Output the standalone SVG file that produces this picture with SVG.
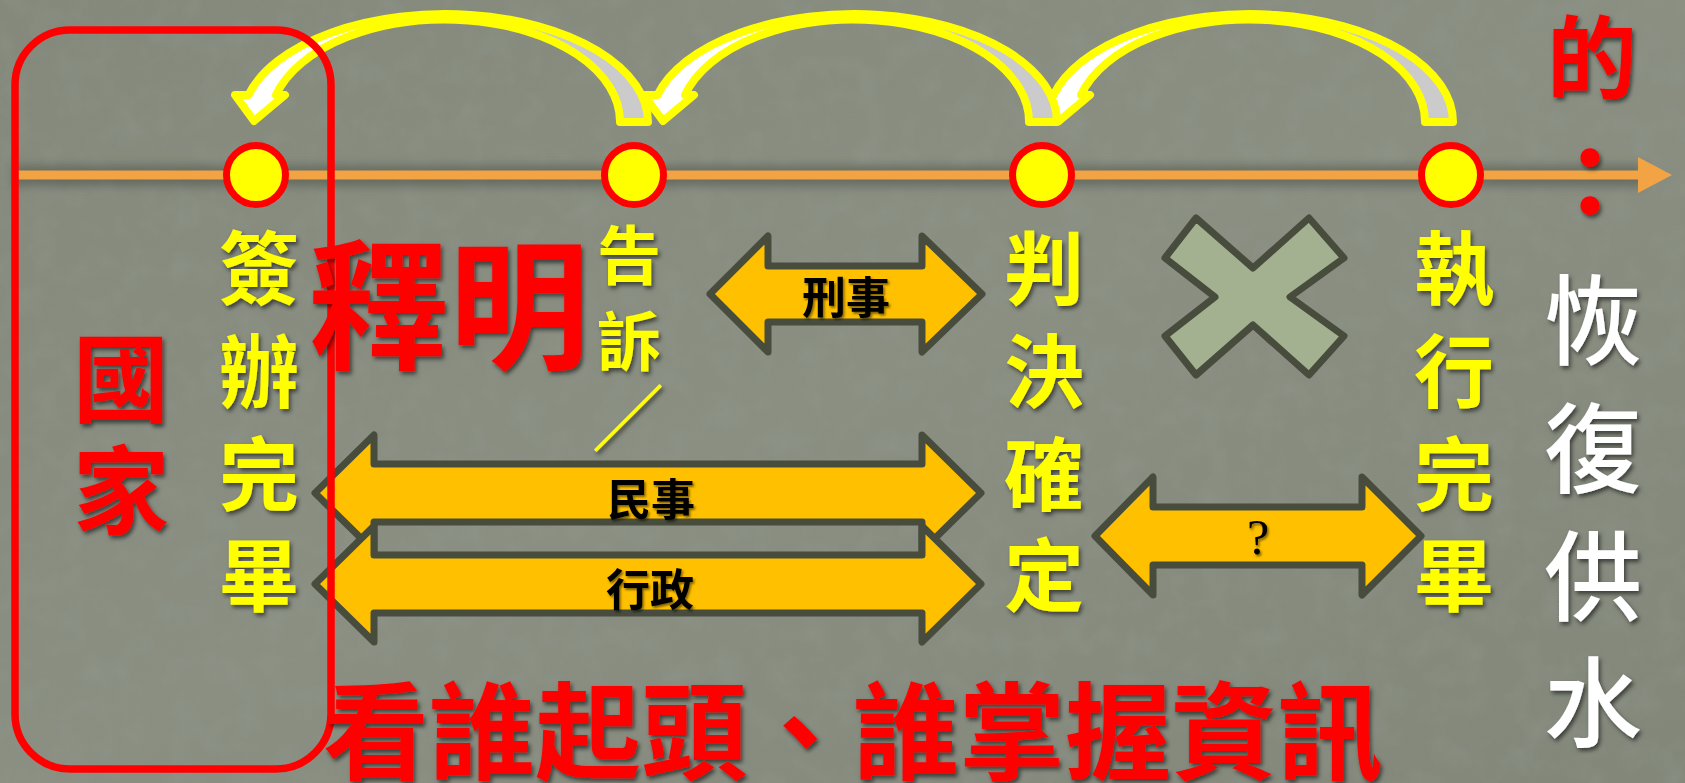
<svg xmlns="http://www.w3.org/2000/svg" width="1685" height="783" viewBox="0 0 1685 783">
<defs>
<style>
.cjk{font-family:"Noto Sans CJK TC","Noto Sans CJK SC",sans-serif;text-anchor:middle;dominant-baseline:central}
.yl{fill:#FFFF00;font-weight:700;font-size:80px;filter:url(#sh)}
.yls{fill:#FFFF00;font-weight:700;font-size:64px;filter:url(#sh)}
.rd{fill:#FF0000;font-weight:700;filter:url(#sh)}
.wt{fill:#FFFFFF;font-weight:500;font-size:98px;filter:url(#sh)}
.bk{fill:#000000;font-weight:700;font-size:44px;filter:url(#sh2)}
.dbl{fill:#FFC000;stroke:#474C3D;stroke-width:7;stroke-linejoin:round}
.arc{fill:url(#arcfill);stroke:#FFFF00;stroke-width:8;stroke-linejoin:round}
.dot{fill:#FFFF00;stroke:#FF0000;stroke-width:7}
</style>
<linearGradient id="bgg" x1="0" y1="0" x2="1" y2="1">
<stop offset="0" stop-color="#84897C"/>
<stop offset="0.5" stop-color="#8A8F82"/>
<stop offset="1" stop-color="#82877A"/>
</linearGradient>
<linearGradient id="arcfill" x1="0" y1="0" x2="1" y2="0">
<stop offset="0" stop-color="#FFFFFF"/>
<stop offset="0.5" stop-color="#FFFFFF"/>
<stop offset="0.5" stop-color="#CBCBCB"/>
<stop offset="1" stop-color="#CBCBCB"/>
</linearGradient>
<filter id="tex" x="0" y="0" width="100%" height="100%">
<feTurbulence type="fractalNoise" baseFrequency="0.035" numOctaves="3" seed="7" result="n"/>
<feColorMatrix in="n" type="matrix" values="0 0 0 0 0.3  0 0 0 0 0.32  0 0 0 0 0.28  0 0 0 1.4 -0.6"/>
</filter>
<filter id="sh" x="-20%" y="-20%" width="140%" height="140%">
<feDropShadow dx="2" dy="3" stdDeviation="2" flood-color="#000" flood-opacity="0.55"/>
</filter>
<filter id="sh2" x="-20%" y="-20%" width="140%" height="140%">
<feDropShadow dx="1.5" dy="2" stdDeviation="1.2" flood-color="#000" flood-opacity="0.5"/>
</filter>
<filter id="lsh" x="-5%" y="-200%" width="110%" height="500%">
<feGaussianBlur stdDeviation="5"/>
</filter>
<path id="arcshape" d="M 648 122 A 203 108 0 0 0 248.5 95 L 235 95 L 254 121 L 285 95 L 276 95 A 175 102 0 0 1 620 122 Z"/>
</defs>

<g id="background">
<rect x="0" y="0" width="1685" height="783" fill="url(#bgg)"/>
<rect x="0" y="0" width="1685" height="783" filter="url(#tex)" opacity="0.5"/>
</g>

<g id="timeline">
<rect x="14" y="166" width="1630" height="20" fill="#3E4238" opacity="0.45" filter="url(#lsh)"/>
<line x1="14" y1="175" x2="1642" y2="175" stroke="#F2A444" stroke-width="9"/>
<polygon points="1638,157 1672,175 1638,193" fill="#F2A444"/>
</g>

<g id="connectors">
<use href="#arcshape" class="arc" transform="translate(805,0)"/>
<use href="#arcshape" class="arc" transform="translate(409,0)"/>
<use href="#arcshape" class="arc"/>
<polygon class="dbl" points="710,294 768,236 768,266 922,266 922,236 982,294 922,352 922,322 768,322 768,352"/>
<polygon class="dbl" points="315,493 374,435 374,464 922,464 922,435 981,493 922,551 922,522 374,522 374,551"/>
<polygon class="dbl" points="315,584 374,526 374,555 922,555 922,526 981,584 922,642 922,613 374,613 374,642"/>
<polygon class="dbl" points="1095,536 1153,477 1153,507 1362,507 1362,477 1421,536 1362,595 1362,565 1153,565 1153,595"/>
<text class="cjk bk" x="846" y="295">刑事</text>
<text class="cjk bk" x="651" y="497">民事</text>
<text class="cjk bk" x="650" y="587">行政</text>
<text x="1258" y="554" style="font-family:'Liberation Serif',serif;font-size:50px;text-anchor:middle;fill:#000;filter:url(#sh2)">?</text>
</g>

<g id="node-qianban">
<circle class="dot" cx="256" cy="175" r="29.5"/>
<text class="cjk yl"><tspan x="259" y="263">簽</tspan><tspan x="259" y="366">辦</tspan><tspan x="259" y="469">完</tspan><tspan x="259" y="570">畢</tspan></text>
</g>

<g id="node-gaosu">
<circle class="dot" cx="634" cy="175" r="29.5"/>
<text class="cjk yls"><tspan x="629" y="251">告</tspan><tspan x="629" y="337">訴</tspan></text>
<text class="cjk" x="628" y="413" style="fill:#FFFF00;font-size:72px;font-weight:700;filter:url(#sh)">／</text>
</g>

<g id="node-panjue">
<circle class="dot" cx="1042" cy="175" r="29.5"/>
<text class="cjk yl"><tspan x="1044" y="263">判</tspan><tspan x="1044" y="366">決</tspan><tspan x="1044" y="469">確</tspan><tspan x="1044" y="570">定</tspan></text>
</g>

<g id="node-zhixing">
<circle class="dot" cx="1451" cy="175" r="29.5"/>
<text class="cjk yl"><tspan x="1454" y="263">執</tspan><tspan x="1454" y="366">行</tspan><tspan x="1454" y="469">完</tspan><tspan x="1454" y="570">畢</tspan></text>
</g>

<g id="cross">
<polygon points="1196,218 1253,268 1309,218 1344,258 1290,297 1344,336 1309,375 1253,325 1196,375 1165,336 1215,297 1165,258" fill="#A3B190" stroke="#474C3D" stroke-width="7" stroke-linejoin="round"/>
</g>

<g id="node-guojia">
<rect x="15" y="30" width="316" height="739" rx="55" ry="55" fill="none" stroke="#FF0000" stroke-width="7.5"/>
<text class="cjk rd" style="font-size:96px"><tspan x="121" y="372">國</tspan><tspan x="121" y="484">家</tspan></text>
</g>

<g id="labels">
<text class="cjk rd" x="449" y="297" style="font-size:140px">釋明</text>
<text class="cjk rd" x="1592" y="52" style="font-size:90px">的</text>
<text class="cjk rd" x="1590" y="175" style="font-size:100px">：</text>
<text class="cjk wt"><tspan x="1593" y="314">恢</tspan><tspan x="1593" y="442">復</tspan><tspan x="1593" y="570">供</tspan><tspan x="1593" y="696">水</tspan></text>
<text class="cjk rd" x="853" y="725" style="font-size:106px">看誰起頭、誰掌握資訊</text>
</g>
</svg>
